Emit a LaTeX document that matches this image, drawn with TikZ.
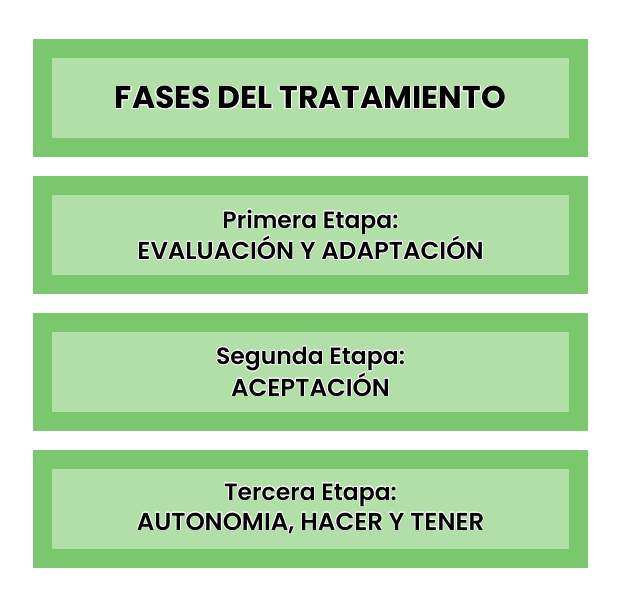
\documentclass[tikz,border=0pt]{standalone}
\usepackage{fontspec}
\setmainfont{Poppins}[BoldFont=* SemiBold]
\newfontfamily\titlefont{Poppins}[UprightFont=* Bold]
\usepackage{contour}
\contourlength{0.7pt}
\usepackage{tikz}

\definecolor{outerGreen}{HTML}{7AC76E}
\definecolor{innerGreen}{HTML}{B2DEA8}

\newcommand{\glow}[1]{\contour{white}{#1}}

\begin{document}
\begin{tikzpicture}[x=1pt,y=1pt,%%
  phaseStyle/.style={draw=outerGreen,fill=innerGreen,line width=19pt,%%
    minimum width=536pt,minimum height=99pt,inner sep=0pt,align=center,%%
    font=\fontsize{24.5}{30}\selectfont\bfseries},%%
  titleStyle/.style={phaseStyle,font=\fontsize{31.5}{36}\selectfont\titlefont}%%
]
%%
\pgfmathsetmacro{\xmid}{310.5} %% horizontal centre of the boxes
\pgfmathsetmacro{\ytop}{-98}   %% centre of the first box
\pgfmathsetmacro{\dy}{137}     %% distance between two boxes
%%
\useasboundingbox (0,0) rectangle (620,-610);
%%
%% The title box.
\node[titleStyle] (title) at (\xmid,\ytop) {\glow{FASES DEL TRATAMIENTO}};
%%
%% The three stages of the treatment.
\node[phaseStyle] (first) at (\xmid,\ytop-\dy)
  {\glow{\fontsize{23.5}{30}\selectfont Primera Etapa:}\\\glow{EVALUACIÓN Y ADAPTACIÓN}};
\node[phaseStyle] (second) at (\xmid,\ytop-2*\dy)
  {\glow{\fontsize{23.5}{30}\selectfont Segunda Etapa:}\\\glow{ACEPTACIÓN}};
\node[phaseStyle] (third) at (\xmid,\ytop-3*\dy)
  {\glow{\fontsize{23.5}{30}\selectfont Tercera Etapa:}\\\glow{AUTONOMIA, HACER Y TENER}};
\end{tikzpicture}
\end{document}
